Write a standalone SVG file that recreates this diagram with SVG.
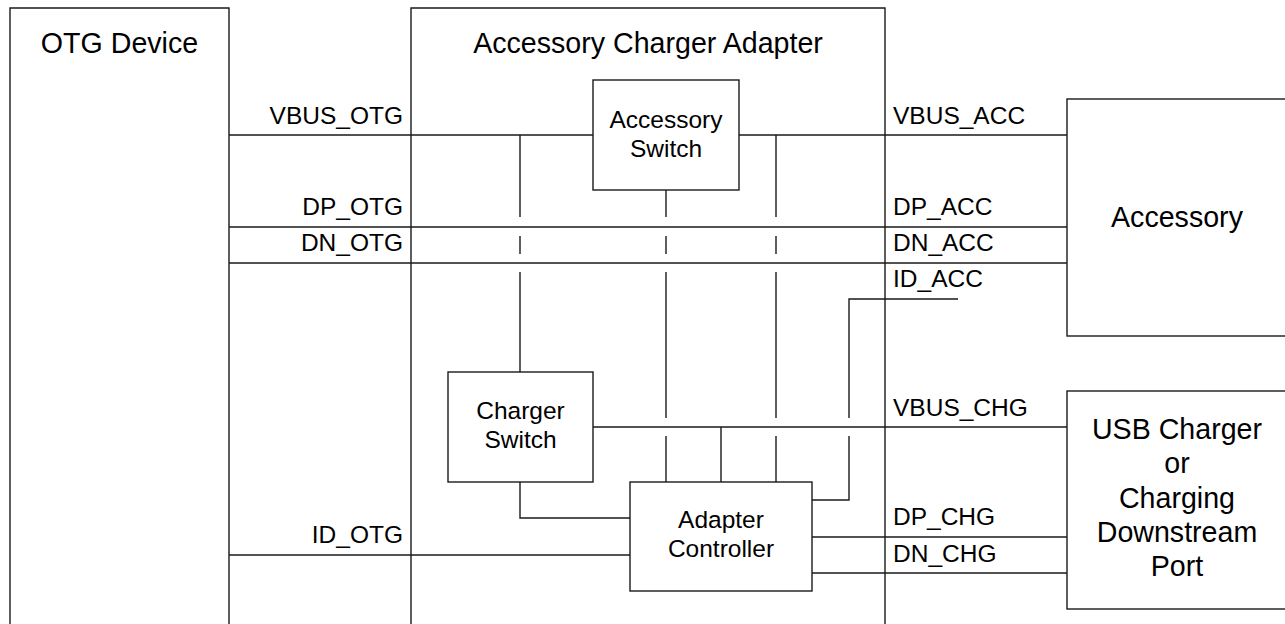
<svg xmlns="http://www.w3.org/2000/svg" width="1285" height="624" viewBox="0 0 1285 624">
<style>
.box{fill:#fff;stroke:#1a1a1a;stroke-width:1.4}
.ln{fill:none;stroke:#1a1a1a;stroke-width:1.4}
text{font-family:"Liberation Sans",Arial,sans-serif;fill:#000}
.big{font-size:28.6px;text-anchor:middle}
.mid{font-size:24.5px;text-anchor:middle}
.lab{font-size:24.5px}
.end{text-anchor:end}
</style>
<rect width="1285" height="624" fill="#fff"/>
<g id="otg-device">
<path class="box" d="M10,640 V8 H229 V640"/>
<text class="big" x="119.5" y="53">OTG Device</text>
</g>
<g id="adapter">
<path class="box" d="M411,640 V8 H885 V640"/>
<text class="big" x="648" y="53">Accessory Charger Adapter</text>
</g>
<g id="accessory">
<rect class="box" x="1067" y="99" width="230" height="237"/>
<text class="big" x="1177" y="227">Accessory</text>
</g>
<g id="usb-charger">
<rect class="box" x="1067" y="391" width="230" height="218"/>
<text class="big" x="1177" y="439">USB Charger</text>
<text class="big" x="1177" y="473">or</text>
<text class="big" x="1177" y="508">Charging</text>
<text class="big" x="1177" y="542">Downstream</text>
<text class="big" x="1177" y="576">Port</text>
</g>
<g id="connectors">
<path class="ln" d="M229,135 H593 M739,135 H1067"/>
<path class="ln" d="M229,227 H1067 M229,263 H1067"/>
<path class="ln" d="M229,555 H630"/>
<path class="ln" d="M520,135 V217 M520,236 V254 M520,272 V372"/>
<path class="ln" d="M666,190 V217 M666,236 V254 M666,272 V418 M666,436 V482"/>
<path class="ln" d="M776,135 V217 M776,236 V254 M776,272 V418 M776,436 V482"/>
<path class="ln" d="M593,427 H1067 M721,427 V482"/>
<path class="ln" d="M958,299 H849 V418 M849,436 V500 H812"/>
<path class="ln" d="M520,482 V518 H630"/>
<path class="ln" d="M812,537 H1067 M812,573 H1067"/>
</g>
<g id="signal-labels">
<text class="lab end" x="403" y="124">VBUS_OTG</text>
<text class="lab end" x="403" y="215">DP_OTG</text>
<text class="lab end" x="403" y="251">DN_OTG</text>
<text class="lab end" x="403" y="543">ID_OTG</text>
<text class="lab" x="893" y="124">VBUS_ACC</text>
<text class="lab" x="893" y="215">DP_ACC</text>
<text class="lab" x="893" y="251">DN_ACC</text>
<text class="lab" x="893" y="287">ID_ACC</text>
<text class="lab" x="893" y="416">VBUS_CHG</text>
<text class="lab" x="893" y="525">DP_CHG</text>
<text class="lab" x="893" y="562">DN_CHG</text>
</g>
<g id="accessory-switch">
<rect class="box" x="593" y="80" width="146" height="110"/>
<text class="mid" x="666" y="128">Accessory</text>
<text class="mid" x="666" y="157">Switch</text>
</g>
<g id="charger-switch">
<rect class="box" x="448" y="372" width="145" height="110"/>
<text class="mid" x="520.5" y="419">Charger</text>
<text class="mid" x="520.5" y="448">Switch</text>
</g>
<g id="adapter-controller">
<rect class="box" x="630" y="482" width="182" height="109"/>
<text class="mid" x="721" y="528">Adapter</text>
<text class="mid" x="721" y="557">Controller</text>
</g>
</svg>
